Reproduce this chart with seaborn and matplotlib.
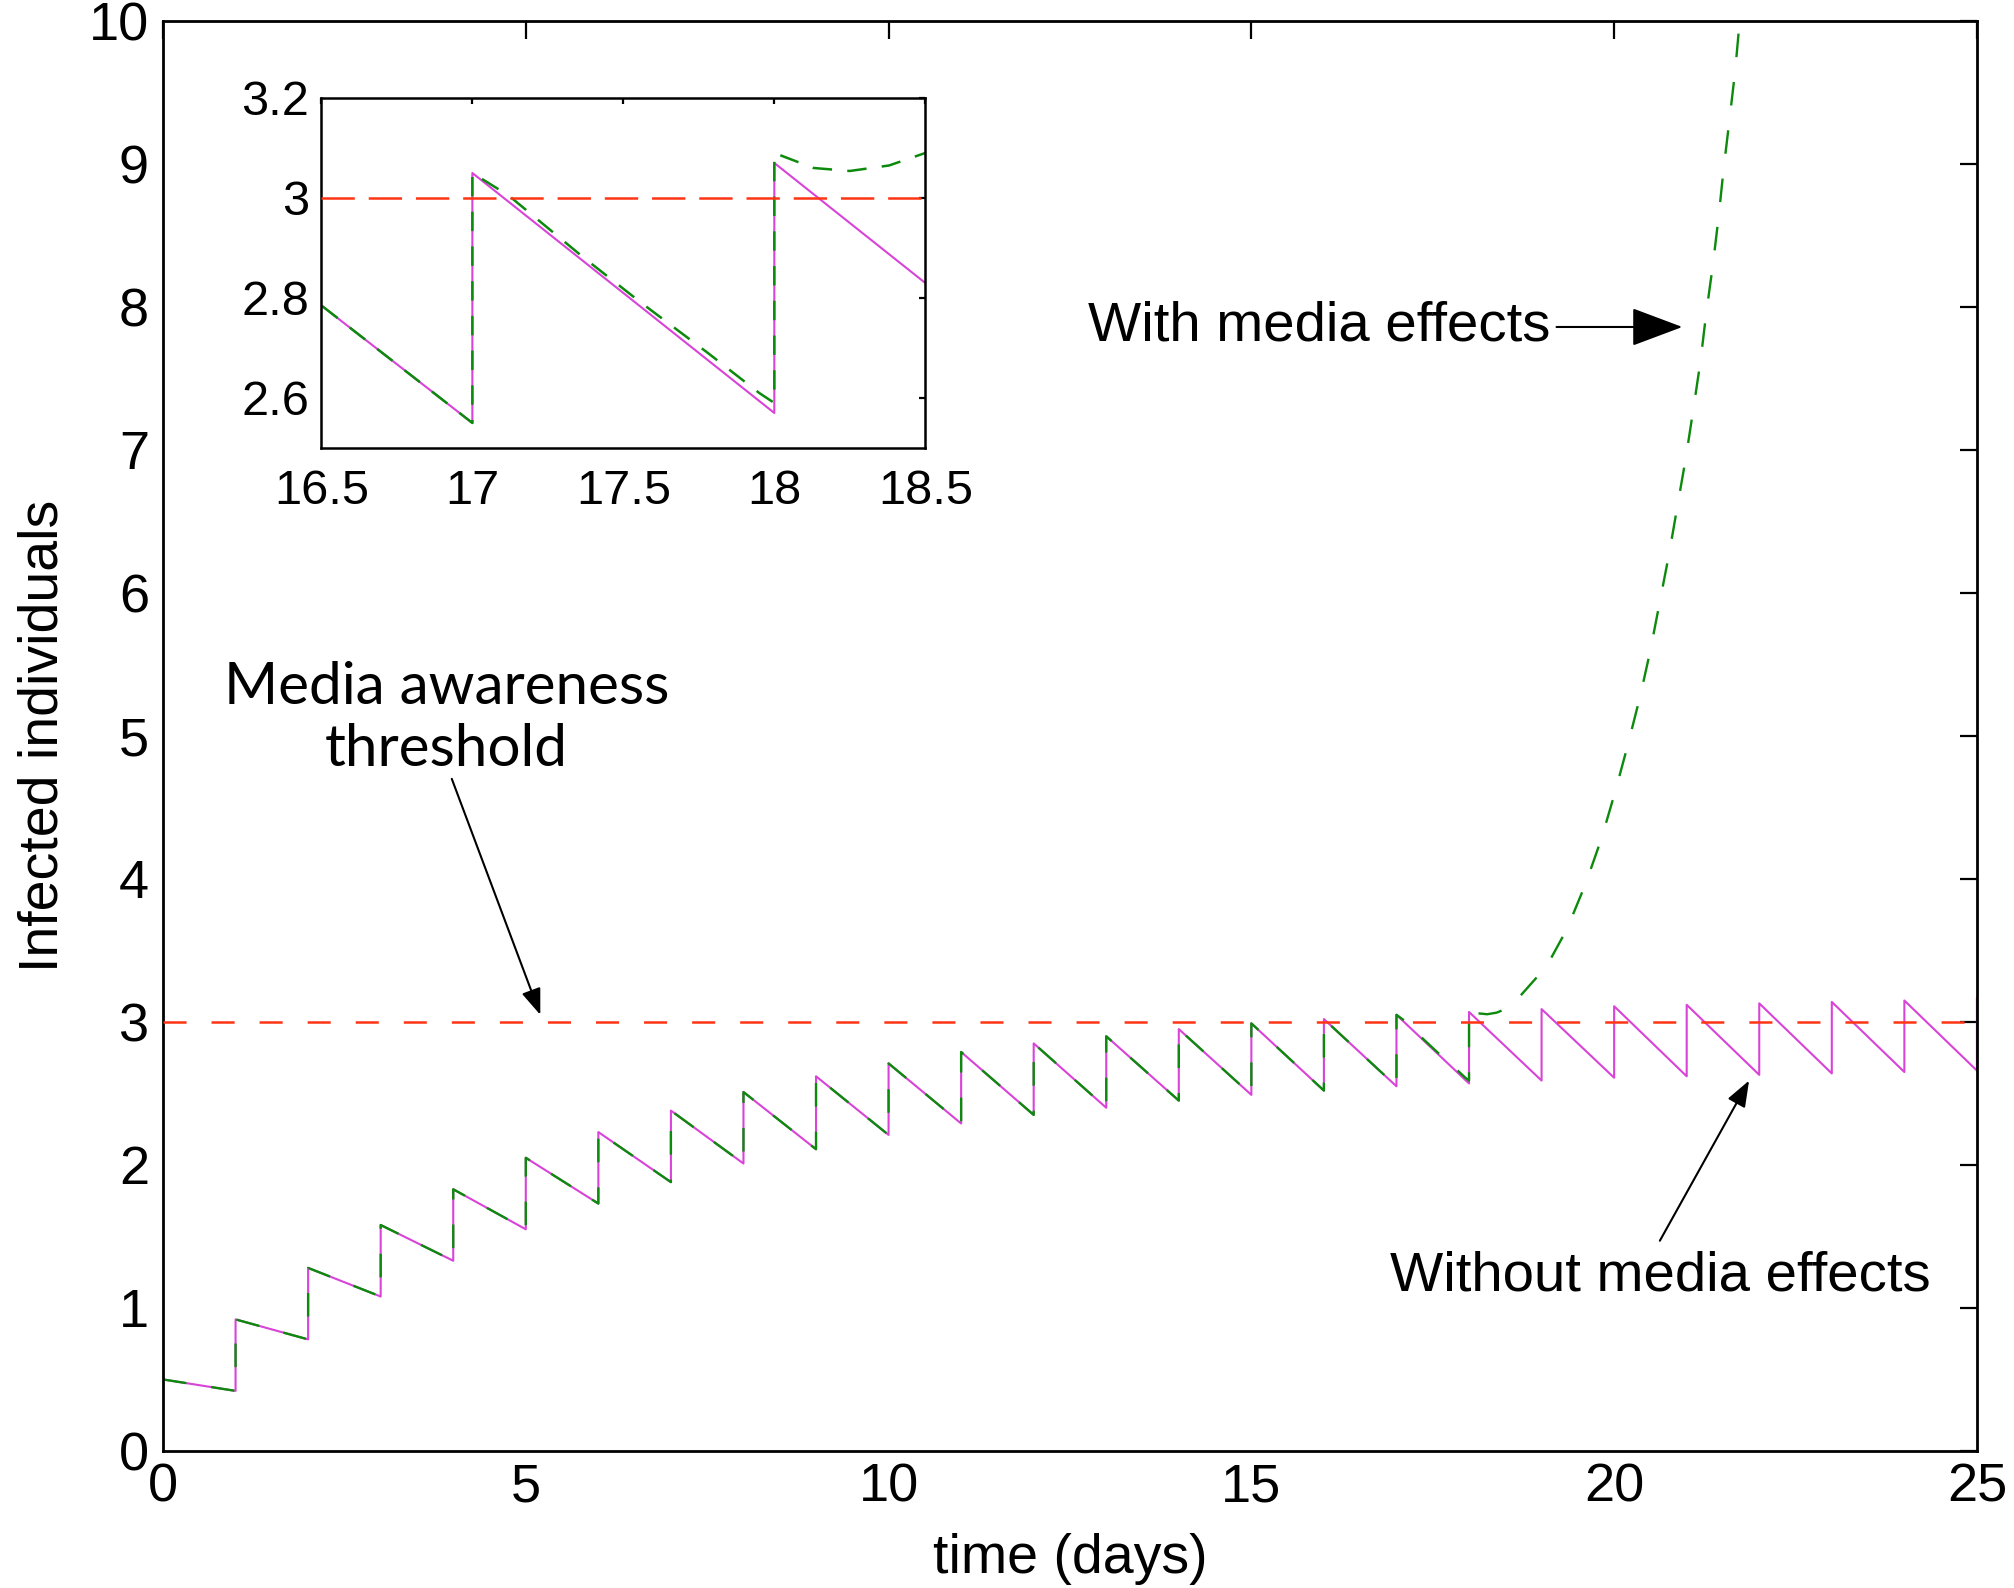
import numpy as np
import pandas as pd
import matplotlib
matplotlib.use("Agg")
import matplotlib.pyplot as plt
import seaborn as sns

# 1. values
# sawtooth without media: value just after the daily dose (day 0..25) and just before the next one
dose_days = list(range(26))
peak_vals = [0.50, 0.92, 1.28, 1.58, 1.83, 2.05, 2.23, 2.38, 2.51, 2.62,
             2.71, 2.79, 2.85, 2.90, 2.95, 2.99, 3.02, 3.05, 3.07, 3.09,
             3.11, 3.12, 3.13, 3.14, 3.15, 3.17]
trough_vals = [0.42, 0.78, 1.08, 1.33, 1.55, 1.73, 1.88, 2.01, 2.11, 2.21,
               2.29, 2.35, 2.40, 2.45, 2.49, 2.52, 2.55, 2.57, 2.59, 2.61,
               2.62, 2.63, 2.64, 2.65, 2.66]

# with media: identical up to day 17, then diverges
media_t = [17.0, 17.12, 17.37, 17.56, 17.78, 17.95, 18.0,
           18.0, 18.13, 18.25, 18.38, 18.5, 18.65, 19.07, 19.35, 19.61, 19.83,
           20.02, 20.19, 20.36, 20.50, 20.63, 20.76, 20.88, 20.99, 21.09, 21.19,
           21.27, 21.36, 21.44, 21.51, 21.59, 21.67, 21.73, 21.80]
media_y = [3.05, 3.005, 2.88, 2.79, 2.69, 2.61, 2.59,
           3.09, 3.06, 3.054, 3.065, 3.09, 3.15, 3.39, 3.65, 3.97, 4.29,
           4.62, 4.94, 5.28, 5.60, 5.94, 6.28, 6.63, 6.95, 7.28, 7.62,
           7.96, 8.29, 8.63, 8.97, 9.31, 9.66, 10.0, 10.4]
media_start_day = 17

threshold = 3

# 2. build the line paths
t_no, y_no = [], []
for d in dose_days[:-1]:
    t_no += [d, d + 1]
    y_no += [peak_vals[d], trough_vals[d]]
t_no.append(dose_days[-1])
y_no.append(peak_vals[-1])
no_media = pd.DataFrame({"t": t_no, "I": y_no})

t_wm, y_wm = [], []
for d in dose_days[:media_start_day]:
    t_wm += [d, d + 1]
    y_wm += [peak_vals[d], trough_vals[d]]
with_media = pd.DataFrame({"t": t_wm + media_t, "I": y_wm + media_y})

# 3. style
sns.set_style("white")
plt.rcParams["font.family"] = ["Liberation Sans", "DejaVu Sans"]
plt.rcParams["lines.scale_dashes"] = False
for k in ["text.color", "axes.labelcolor", "xtick.color", "ytick.color"]:
    plt.rcParams[k] = "black"

MAGENTA = "#d843d8"
GREEN = "#0c8a0c"
RED = "#ff3414"
ARROW = "-|>,head_length=0.8,head_width=0.3"

fig = plt.figure(figsize=(10.075, 7.94), dpi=200)
ax = fig.add_axes([0.0809, 0.0863, 0.9002, 0.9005])
axin = fig.add_axes([0.1595, 0.7179, 0.2997, 0.2204])


def draw(a, lw_m, lw_g, g_dash, r_dash):
    sns.lineplot(data=no_media, x="t", y="I", sort=False, estimator=None,
                 color=MAGENTA, linewidth=lw_m, ax=a)
    sns.lineplot(data=with_media, x="t", y="I", sort=False, estimator=None,
                 color=GREEN, linewidth=lw_g, linestyle=(0, g_dash), ax=a)
    a.axhline(threshold, color=RED, linewidth=0.9, linestyle=(0, r_dash), zorder=3)
    a.set_xlabel("")
    a.set_ylabel("")
    for s in a.spines.values():
        s.set_visible(True)
        s.set_color("black")


# main axes
draw(ax, 0.75, 0.85, (8.5, 9.0), (8.3, 9.0))
ax.set_xlim(0, 25)
ax.set_ylim(0, 10)
ax.set_xticks(range(0, 26, 5))
ax.set_yticks(range(0, 11))
ax.tick_params(direction="in", length=6.3, width=0.8, top=True, right=True,
               labelsize=19.5)
ax.tick_params(axis="x", pad=4)
ax.tick_params(axis="y", pad=5)
for s in ax.spines.values():
    s.set_linewidth(1.0)
ax.set_xlabel("time (days)", fontsize=20, labelpad=7.5)
ax.set_ylabel("Infected individuals", fontsize=20, labelpad=7)

# annotations
ax.annotate("With media effects", xy=(20.94, 7.86), xytext=(12.75, 7.86),
            fontsize=20.3, va="center", ha="left",
            arrowprops=dict(arrowstyle=ARROW, color="black", lw=0.75,
                            shrinkA=0, shrinkB=0))
ax.annotate("", xy=(21.86, 2.59), xytext=(20.63, 1.47),
            arrowprops=dict(arrowstyle=ARROW, color="black", lw=0.75,
                            shrinkA=0, shrinkB=0))
ax.text(16.91, 1.22, "Without media effects", fontsize=20.3, va="center",
        ha="left")
ax.annotate("", xy=(5.20, 3.05), xytext=(3.98, 4.70),
            arrowprops=dict(arrowstyle=ARROW, color="black", lw=0.75,
                            shrinkA=0, shrinkB=0))
ax.text(3.91, 5.12, "Media awareness\nthreshold", fontsize=21, ha="center",
        va="center", linespacing=1.2, family=["Lato", "DejaVu Sans"])

# inset
draw(axin, 0.75, 0.9, (7.0, 5.5), (12.0, 5.0))
axin.set_xlim(16.5, 18.5)
axin.set_ylim(2.5, 3.2)
axin.set_xticks([16.5, 17, 17.5, 18, 18.5])
axin.set_xticklabels(["16.5", "17", "17.5", "18", "18.5"])
axin.set_yticks([2.6, 2.8, 3.0, 3.2])
axin.set_yticklabels(["2.6", "2.8", "3", "3.2"])
axin.tick_params(direction="in", length=2.3, width=0.8, top=True, right=True,
                 labelsize=17.5)
axin.tick_params(axis="x", pad=7.5)
axin.tick_params(axis="y", pad=4.5)
for s in axin.spines.values():
    s.set_linewidth(0.9)

fig.savefig("out.png", dpi=200)
